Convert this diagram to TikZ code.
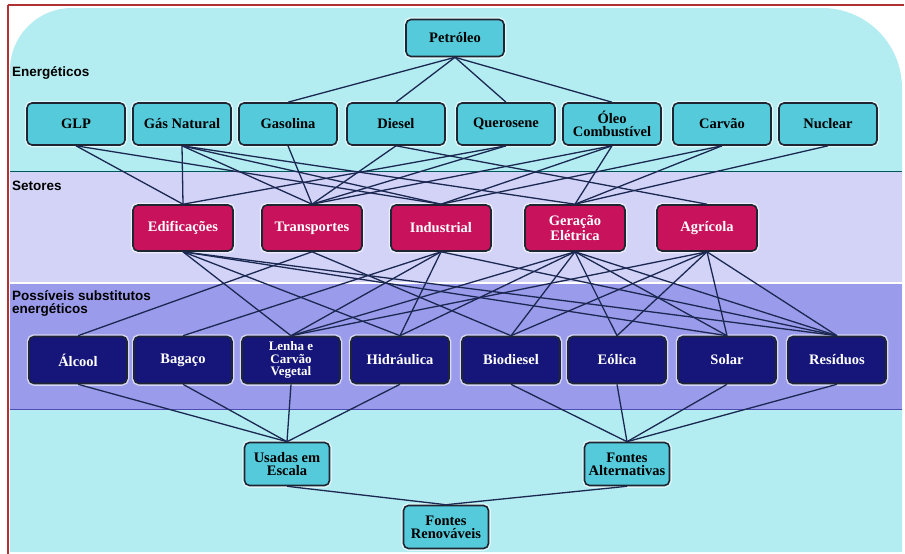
\documentclass[tikz,border=0pt]{standalone}
\usepackage{fontspec}
\setmainfont{Liberation Serif}
\setsansfont{Liberation Sans}
\usepackage{xcolor}
\usepackage{tikz}
\definecolor{bgcyan}{HTML}{B3EDF1}
\definecolor{setband}{HTML}{D3D3F7}
\definecolor{subband}{HTML}{9B9BEB}
\definecolor{encyan}{HTML}{55CADA}
\definecolor{setmag}{HTML}{C8125C}
\definecolor{subnavy}{HTML}{16167A}
\definecolor{boxline}{HTML}{1E2634}
\definecolor{linkcol}{HTML}{1A2852}
\definecolor{framered}{HTML}{B03232}
\tikzset{
  box/.style = {align=center, inner sep=0pt, rounded corners=5pt, draw=boxline, line width=1.6pt,
    font=\bfseries\fontsize{14.5}{13}\selectfont,
    preaction={draw=white, line width=4.5pt, opacity=0.6}},
  nd_en/.style = {box, fill=encyan, text=black, minimum width=98pt, minimum height=42pt},% energetico
  nd_set/.style = {box, fill=setmag, text=white, minimum width=100pt, minimum height=46pt},% setor
  nd_sub/.style = {box, fill=subnavy, text=white, minimum width=98pt, minimum height=47pt},% substituto
  nd_ren/.style = {box, fill=encyan, text=black, minimum width=85pt, minimum height=43pt},% renovaveis
  link/.style = {draw=linkcol, line width=1.3pt},
  sec/.style = {font=\sffamily\bfseries\fontsize{13.5}{13}\selectfont, anchor=west, align=left, inner sep=0pt}
}

\begin{document}
\begin{tikzpicture}[x=1pt,y=-1pt]
\useasboundingbox (0,0) rectangle (905,554);
% fundo e faixas
\fill[white] (0,0) rectangle (905,554);
\fill[bgcyan] (10,552) -- (10,70) arc[start angle=180, end angle=270, radius=62] -- (822,8) arc[start angle=270, end angle=360, radius=80] -- (902,552) -- cycle;
\fill[setband] (10,171) rectangle (902,283);
\fill[subband] (10,284) rectangle (902,409);
\draw[teal!70!black, line width=1pt] (10,171) -- (902,171);
\draw[white, line width=1.2pt] (10,283) -- (902,283);
\draw[blue!40!gray, line width=1pt] (10,409) -- (902,409);
\draw[framered, line width=2pt] (8,5) -- (904,5) (8,5) -- (8,554);

% titulos
\node[sec] (t_en) at (12,73) {Energ\'eticos};
\node[sec] (t_set) at (12,186) {Setores};
\node[sec, anchor=north west] (t_sub) at (12,290) {Poss\'iveis substitutos\\energ\'eticos};

% energeticos
\node [nd_en, minimum height=37pt] (petroleo) at (455,38) {Petr\'oleo};
\node [nd_en] (glp) at (76,124) {GLP};
\node [nd_en] (gas) at (182,124) {G\'as Natural};
\node [nd_en] (gasolina) at (288,124) {Gasolina};
\node [nd_en] (diesel) at (396,124) {Diesel};
\node [nd_en] (querosene) at (506,124) {Querosene};
\node [nd_en] (oleo) at (612,124) {\'Oleo\\Combust\'ivel};
\node [nd_en] (carvao) at (722,124) {Carv\~ao};
\node [nd_en] (nuclear) at (828,124) {Nuclear};

% setores
\node [nd_set] (edif) at (183,228) {Edifica\c c\~oes};
\node [nd_set] (transp) at (312,228) {Transportes};
\node [nd_set] (indust) at (441,228) {Industrial};
\node [nd_set] (geracao) at (575,228) {Gera\c c\~ao\\El\'etrica};
\node [nd_set] (agric) at (707,228) {Agr\'icola};

% substitutos
\node [nd_sub] (alcool) at (78,360) {\'Alcool};
\node [nd_sub] (bagaco) at (183,360) {Baga\c co};
\node [nd_sub, font=\bfseries\fontsize{13}{12.5}\selectfont] (lenha) at (291,360) {Lenha e\\Carv\~ao\\Vegetal};
\node [nd_sub] (hidra) at (400,360) {Hidr\'aulica};
\node [nd_sub] (biodiesel) at (511,360) {Biodiesel};
\node [nd_sub] (eolica) at (617,360) {E\'olica};
\node [nd_sub] (solar) at (727,360) {Solar};
\node [nd_sub] (residuos) at (837,360) {Res\'iduos};

% renovaveis
\node [nd_ren] (escala) at (287,464) {Usadas em\\Escala};
\node [nd_ren] (alternativas) at (627,464) {Fontes\\Alternativas};
\node [nd_ren] (renovaveis) at (446,527) {Fontes\\Renov\'aveis};

% ligacoes
\foreach \a/\b in {petroleo/gasolina, petroleo/diesel, petroleo/querosene, petroleo/oleo,
  glp/edif, glp/indust, gas/edif, gas/transp, gas/indust, gas/geracao,
  gasolina/transp, diesel/transp, diesel/agric, querosene/transp, querosene/edif,
  oleo/transp, oleo/indust, oleo/geracao, carvao/indust, carvao/geracao, nuclear/geracao,
  edif/lenha, edif/hidra, edif/solar, edif/residuos, transp/alcool, transp/biodiesel,
  indust/bagaco, indust/lenha, indust/hidra, indust/residuos,
  geracao/lenha, geracao/hidra, geracao/biodiesel, geracao/eolica, geracao/solar, geracao/residuos,
  agric/lenha, agric/biodiesel, agric/eolica, agric/solar, agric/residuos,
  alcool/escala, bagaco/escala, lenha/escala, hidra/escala,
  biodiesel/alternativas, eolica/alternativas, solar/alternativas, residuos/alternativas,
  escala/renovaveis, alternativas/renovaveis}
  \draw[link] (\a.south) -- (\b.north);
\end{tikzpicture}
\end{document}
